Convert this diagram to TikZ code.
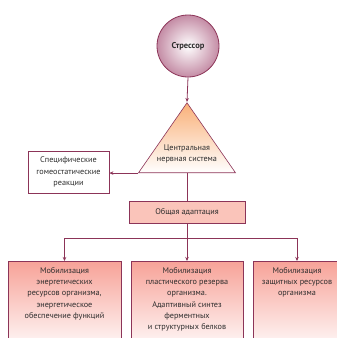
\documentclass[tikz,border=0pt]{standalone}
\usepackage{fontspec}
\setmainfont{PT Sans}
\usetikzlibrary{shapes.geometric, arrows.meta, positioning}

\definecolor{rosedark}{RGB}{140,52,88}
\definecolor{mauve}{RGB}{196,140,165}
\definecolor{peach}{RGB}{249,176,120}
\definecolor{salmon}{RGB}{250,196,186}
\definecolor{salmontop}{RGB}{247,162,152}
\definecolor{textgray}{RGB}{45,45,45}

% text of the lower boxes, set from the top
\newcommand{\boxtext}[2]{\parbox[t][80pt][t]{#1}{\centering #2}}

\begin{document}
\begin{tikzpicture}[x=1pt, y=-1pt,
        font=\fontsize{8.2}{11.3}\selectfont, text=textgray,
        % Стрессор
        stressnode/.style={
                circle,
                minimum size=62pt,
                draw=rosedark,
                line width=0.8pt,
                inner color=white,
                outer color=mauve,
                font=\fontsize{8.5}{10}\selectfont\bfseries
            },
        % ЦНС
        cnsnode/.style={
                isosceles triangle,
                isosceles triangle stretches,
                shape border rotate=90,
                minimum width=97pt,
                minimum height=70pt,
                inner sep=0pt,
                draw=rosedark,
                line width=0.6pt,
                top color=peach,
                bottom color=white
            },
        % Прямоугольники
        plainbox/.style={
                rectangle,
                draw=rosedark,
                line width=0.8pt,
                fill=white,
                minimum width=81pt,
                minimum height=42pt,
                align=center,
                inner sep=1pt
            },
        adaptbox/.style={
                rectangle,
                draw=rosedark,
                line width=0.8pt,
                fill=salmon,
                minimum width=116pt,
                minimum height=22pt
            },
        mobbox/.style={
                rectangle,
                draw=rosedark,
                line width=0.8pt,
                top color=salmontop,
                bottom color=white,
                anchor=north,
                inner xsep=2pt,
                inner ysep=6pt
            },
        % Линии
        link/.style={
                draw=rosedark,
                line width=0.8pt
            },
        arrow/.style={
                link,
                -{Stealth[length=4pt, width=3.5pt]}
            }
    ]

    \useasboundingbox (0,0) rectangle (337,338);

    % Стрессор и ЦНС
    \node[stressnode] (stress) at (188,46) {Стрессор};
    \node[cnsnode, anchor=apex] (cns) at (187,102) {};
    \node[align=center] (cnstext) at (187,154) {Центральная\\нервная система};

    % Реакции
    \node[plainbox] (spec) at (68.5,172) {Специфические\\гомеостатические\\реакции};
    \node[adaptbox] (adapt) at (187,212) {Общая адаптация};

    % Нижний ряд
    \node[mobbox] (energy) at (64.5,261) {\boxtext{109pt}{Мобилизация\\энергетических\\ресурсов организма,\\энергетическое\\обеспечение функций}};
    \node[mobbox] (plastic) at (187,261) {\boxtext{108pt}{Мобилизация\\пластического резерва\\организма.\\Адаптивный синтез\\ферментных\\и структурных белков}};
    \node[mobbox] (defence) at (297,261) {\boxtext{84pt}{Мобилизация\\защитных ресурсов\\организма}};

    % Связи
    \draw[arrow] (stress.south) -- (cns.apex);
    \draw[arrow] (cns.left corner) -- (cns.left corner -| spec.east);
    \draw[link] (cns.left corner -| cns.apex) -- (adapt.north);
    \coordinate (fork) at ([yshift=-15pt]adapt.south);
    \draw[link] (adapt.south) -- (fork);
    \draw[arrow] (fork) -| (energy.north);
    \draw[arrow] (fork) -- (plastic.north);
    \draw[arrow] (fork) -| (defence.north);

\end{tikzpicture}
\end{document}
